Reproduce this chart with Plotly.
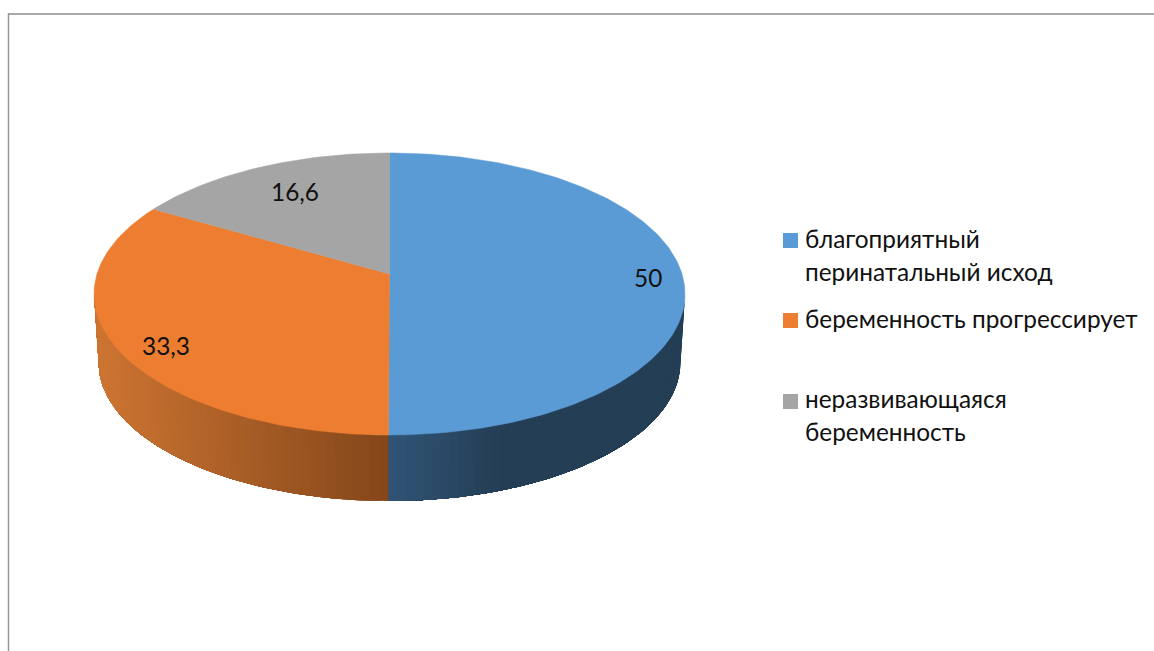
import math
import plotly.graph_objects as go

# Share of each pregnancy outcome, %
category_lines = [
    ["благоприятный", "перинатальный исход"],
    ["беременность прогрессирует"],
    ["неразвивающаяся", "беременность"],
]
values = [50, 33.3, 16.6]
value_labels = ["50", "33,3", "16,6"]
top_colors = ["#5B9BD5", "#ED7D31", "#A5A5A5"]

# Side wall shading: colour at the disc's centre line and at the far end of the wall
wall_colors = [((48, 84, 118), (36, 62, 85)), ((132, 70, 26), (204, 116, 50)), ((100, 100, 100), (100, 100, 100))]
wall_fade_px = [110, 290, 290]

# Perspective disc geometry, in page pixels
CX = 389.5
TOP = dict(y0=274.0, a=292.5, b=138.2)
BOTTOM = dict(y0=342.7, a=288.0, b=135.9)
TILT = 0.1418

# Page placement of texts and legend keys
label_xy = [(648, 277), (166, 345), (294.5, 191)]
legend_key_y = [240.5, 320.5, 401.5]
legend_line_y = [[238.5, 271], [318.5], [398.5, 431.5]]
LEGEND_KEY_X = 790.5
LEGEND_TEXT_X = 803
FONT = "Lato, Open Sans, sans-serif"
FONT_SIZE = 24.4
FONT_COLOR = "#111111"


def project(plane, clock_deg):
    """Map a clockwise-from-north angle on the unit disc to the page."""
    t = math.radians(clock_deg)
    u, v = math.sin(t), math.cos(t)
    w = 1 + TILT * v
    return CX + plane["a"] * u / w, plane["y0"] - plane["b"] * v / w


def blend(near, far, f):
    f = max(0.0, min(1.0, f))
    return "rgb(%d,%d,%d)" % tuple(round(n + (m - n) * f) for n, m in zip(near, far))


def arc_points(plane, start, end, step=1.0):
    n = max(2, round((end - start) / step))
    return [project(plane, start + (end - start) * k / n) for k in range(n + 1)]


total = sum(values)
edges = [0.0]
for val in values:
    edges.append(edges[-1] + 360.0 * val / total)

# The wall is visible only on the front of the rim, between the two tangent points
front_start = math.degrees(math.acos(-TILT))
front_end = 360 - front_start

fig = go.Figure()

# Side wall: each band runs from its own angle to the end of the slice and the
# next band paints over the remainder, so no seams appear between neighbours
STEP = 1.5
for i, val in enumerate(values):
    lo = max(edges[i], front_start)
    hi = min(edges[i + 1], front_end)
    if hi <= lo:
        continue
    n = max(1, round((hi - lo) / STEP))
    for k in range(n):
        a0 = lo + (hi - lo) * k / n
        a1 = lo + (hi - lo) * (k + 1) / n
        upper = arc_points(TOP, a0, hi)
        lower = arc_points(BOTTOM, a0, hi)
        outline = upper + lower[::-1] + [upper[0]]
        xm = (project(TOP, a0)[0] + project(TOP, a1)[0]) / 2
        col = blend(*wall_colors[i], abs(xm - CX) / wall_fade_px[i])
        fig.add_trace(go.Scatter(
            x=[q[0] for q in outline], y=[q[1] for q in outline],
            mode="lines", fill="toself", fillcolor=col,
            line=dict(color=col, width=0),
            hoverinfo="skip", showlegend=False,
        ))

# Top face of the disc
for i, val in enumerate(values):
    arc = arc_points(TOP, edges[i], edges[i + 1])
    xs = [CX] + [q[0] for q in arc] + [CX]
    ys = [TOP["y0"]] + [q[1] for q in arc] + [TOP["y0"]]
    fig.add_trace(go.Scatter(
        x=xs, y=ys, mode="lines", fill="toself", fillcolor=top_colors[i],
        line=dict(color=top_colors[i], width=0.5),
        name=" ".join(category_lines[i]), text=value_labels[i], hoverinfo="name+text",
        showlegend=False,
    ))

# Legend keys
fig.add_trace(go.Scatter(
    x=[LEGEND_KEY_X] * len(values), y=legend_key_y, mode="markers",
    marker=dict(symbol="square", size=15, color=top_colors, line=dict(width=0)),
    hoverinfo="skip", showlegend=False,
))

annotations = []
for lab, (x, y) in zip(value_labels, label_xy):
    annotations.append(dict(x=x, y=y, text=lab, showarrow=False, xanchor="center", yanchor="middle",
                            font=dict(family=FONT, size=FONT_SIZE, color=FONT_COLOR)))
for lines, ys in zip(category_lines, legend_line_y):
    for line, y in zip(lines, ys):
        annotations.append(dict(x=LEGEND_TEXT_X, y=y, text=line, showarrow=False, xanchor="left", yanchor="middle",
                                align="left", font=dict(family=FONT, size=FONT_SIZE, color=FONT_COLOR)))

fig.update_layout(
    width=1154, height=651,
    margin=dict(l=0, r=0, t=0, b=0),
    paper_bgcolor="white", plot_bgcolor="white",
    xaxis=dict(range=[0, 1154], visible=False, fixedrange=True),
    yaxis=dict(range=[651, 0], visible=False, fixedrange=True),
    annotations=annotations,
    shapes=[
        dict(type="line", x0=8, x1=1154, y0=14, y1=14, line=dict(color="#A8A8A8", width=2)),
        dict(type="line", x0=8.5, x1=8.5, y0=13, y1=651, line=dict(color="#989898", width=1.5)),
    ],
)

fig.write_html("out.html", config=dict(displayModeBar=False))
